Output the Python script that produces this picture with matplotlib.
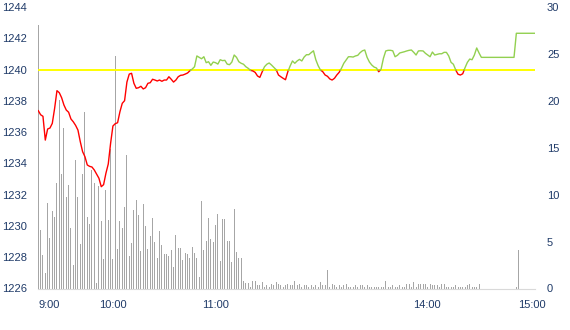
import numpy as np
import matplotlib
matplotlib.use("Agg")
import matplotlib.pyplot as plt

prev_close = 1239.95

price = [
    1237.37, 1237.11, 1237.01, 1235.49, 1236.20, 1236.26, 1236.56, 1237.52, 1238.65, 1238.52,
    1238.20, 1237.73, 1237.41, 1237.27, 1236.84, 1236.66, 1236.43, 1236.13, 1235.39, 1234.75,
    1234.43, 1233.90, 1233.81, 1233.77, 1233.58, 1233.32, 1233.05, 1232.51, 1232.64, 1233.37,
    1233.96, 1235.28, 1236.39, 1236.54, 1236.60, 1237.30, 1237.84, 1238.01, 1239.20, 1239.71,
    1239.76, 1239.12, 1238.80, 1238.84, 1238.93, 1238.76, 1238.84, 1239.12, 1239.16, 1239.38,
    1239.33, 1239.27, 1239.33, 1239.25, 1239.33, 1239.33, 1239.54, 1239.38, 1239.20, 1239.33,
    1239.54, 1239.63, 1239.65, 1239.71, 1239.78, 1239.93, 1240.03, 1240.18, 1240.87, 1240.78,
    1240.69, 1240.82, 1240.44, 1240.50, 1240.27, 1240.48, 1240.44, 1240.35, 1240.63, 1240.57,
    1240.59, 1240.35, 1240.31, 1240.48, 1240.93, 1240.78, 1240.50, 1240.40, 1240.34, 1240.18,
    1240.08, 1239.95, 1239.91, 1239.82, 1239.59, 1239.50, 1239.86, 1240.18, 1240.34, 1240.42,
    1240.29, 1240.14, 1239.99, 1239.65, 1239.54, 1239.44, 1239.35, 1239.86, 1240.23, 1240.55,
    1240.40, 1240.55, 1240.65, 1240.55, 1240.80, 1240.95, 1240.95, 1241.08, 1241.20, 1240.63,
    1240.25, 1239.97, 1239.86, 1239.65, 1239.57, 1239.40, 1239.33, 1239.44, 1239.65, 1239.82,
    1240.08, 1240.40, 1240.61, 1240.82, 1240.82, 1240.80, 1240.87, 1240.91, 1241.08, 1241.20,
    1241.25, 1240.78, 1240.48, 1240.29, 1240.16, 1240.10, 1239.86, 1240.03, 1240.72, 1241.19,
    1241.23, 1241.23, 1241.20, 1240.82, 1240.91, 1241.06, 1241.10, 1241.14, 1241.19, 1241.23,
    1241.25, 1241.10, 1240.93, 1241.19, 1241.20, 1241.19, 1241.04, 1240.93, 1240.82, 1241.12,
    1240.93, 1240.97, 1241.01, 1241.01, 1241.10, 1241.10, 1240.87, 1240.46, 1240.34, 1239.97,
    1239.70, 1239.65, 1239.73, 1240.12, 1240.46, 1240.67, 1240.63, 1240.93, 1241.38, 1241.06,
    1240.78, 1240.78, 1240.78, 1240.78, 1240.78, 1240.78, 1240.78, 1240.78, 1240.78, 1240.78,
    1240.78, 1240.78, 1240.78, 1240.78, 1240.78, 1242.32, 1242.32, 1242.32, 1242.32, 1242.32,
    1242.32, 1242.32, 1242.32, 1242.32,
]

volume = [
    28.1, 6.2, 3.6, 1.7, 9.1, 5.4, 8.3, 7.6, 11.2, 20.1,
    12.2, 17.1, 9.7, 11.0, 6.4, 2.5, 13.7, 9.7, 4.7, 12.2,
    18.8, 7.6, 6.9, 12.6, 11.2, 0.6, 10.9, 7.2, 3.1, 10.5,
    7.3, 14.9, 3.1, 24.8, 4.2, 7.2, 6.4, 8.7, 14.2, 3.5,
    4.9, 8.4, 9.4, 7.8, 4.0, 9.0, 6.7, 4.2, 5.6, 7.5,
    5.0, 3.3, 6.1, 4.6, 3.7, 3.7, 3.5, 4.1, 2.3, 5.7,
    4.3, 4.3, 3.0, 3.8, 3.7, 3.3, 4.4, 3.8, 3.3, 1.2,
    9.3, 4.1, 5.1, 7.5, 5.3, 5.0, 6.8, 7.9, 2.9, 7.4,
    7.4, 5.1, 5.1, 2.8, 8.5, 3.9, 3.3, 3.3, 0.8, 0.6,
    0.6, 0.2, 0.8, 0.8, 0.4, 0.4, 0.7, 0.2, 0.4, 0.2,
    0.53, 0.32, 0.64, 0.43, 0.32, 0.21, 0.32, 0.53, 0.32, 0.32,
    0.85, 0.32, 0.43, 0.11, 0.32, 0.32, 0.21, 0.32, 0.21, 0.32,
    0.21, 0.64, 0.32, 0.32, 1.92, 0.21, 0.53, 0.32, 0.21, 0.32,
    0.21, 0.32, 0.43, 0.21, 0.21, 0.21, 0.32, 0.21, 0.32, 0.32,
    0.21, 0.32, 0.21, 0.21, 0.21, 0.11, 0.11, 0.11, 0.21, 0.75,
    0.11, 0.11, 0.32, 0.21, 0.11, 0.32, 0.21, 0.21, 0.43, 0.53,
    0.21, 0.64, 0.21, 0.43, 0.53, 0.53, 0.53, 0.21, 0.53, 0.32,
    0.32, 0.32, 0.11, 0.43, 0.43, 0.21, 0.21, 0.21, 0.21, 0.32,
    0.21, 0.21, 0.21, 0.11, 0.32, 0.43, 0.21, 0.21, 0.21, 0.43,
    0, 0, 0, 0, 0, 0, 0, 0, 0, 0,
    0, 0, 0, 0, 0, 0.21, 4.09, 0, 0, 0,
    0, 0, 0, 0,
]

tick_labels = ["9:00", "10:00", "11:00", "14:00", "15:00"]
tick_pos = [4.6, 32.0, 76.2, 166.6, 211.6]

price_ticks = [1226, 1228, 1230, 1232, 1234, 1236, 1238, 1240, 1242, 1244]
vol_ticks = [0, 5, 10, 15, 20, 25, 30]

plt.rcParams['font.family'] = ['Liberation Sans', 'DejaVu Sans']

fig = plt.figure(figsize=(5.7, 3.3), dpi=100)
ax = fig.add_axes([37.6 / 570, (330 - 288.5) / 330, 497.4 / 570, 281.5 / 330])
ax2 = ax.twinx()

x = np.arange(len(price), dtype=float)
p = np.array(price, dtype=float)
v = np.array(volume, dtype=float)

# volume bars (behind)
ax2.bar(x, v, width=0.45, color='#A6A6A6', linewidth=0)
ax2.set_ylim(0, 30)
ax2.set_yticks(vol_ticks)

# insert crossing points for colour split
xs, ps = [x[0]], [p[0]]
for i in range(len(p) - 1):
    a, b = p[i] - prev_close, p[i + 1] - prev_close
    if a * b < 0:
        t = a / (a - b)
        xs.append(x[i] + t)
        ps.append(prev_close)
    xs.append(x[i + 1])
    ps.append(p[i + 1])
xs = np.array(xs)
ps = np.array(ps)
up = np.where(ps >= prev_close, ps, np.nan)
dn = np.where(ps <= prev_close, ps, np.nan)

ax.axhline(prev_close, color='#FFFF00', lw=1.4, zorder=2)
ax.plot(xs, dn, color='#FF0000', lw=1.0, zorder=3)
ax.plot(xs, up, color='#92D050', lw=1.0, zorder=3)

ax.set_ylim(1226, 1244)
ax.set_yticks(price_ticks)
ax.set_xlim(-0.3, 213.0)
ax.set_xticks(tick_pos)
ax.set_xticklabels(tick_labels)

ax.set_zorder(ax2.get_zorder() + 1)
ax.patch.set_visible(False)

lab_col = '#1F3A68'
for a in (ax, ax2):
    for s in ['top', 'left', 'right', 'bottom']:
        a.spines[s].set_visible(False)
    a.tick_params(length=0, labelsize=8, colors=lab_col)
ax.spines['bottom'].set_visible(True)
ax.spines['bottom'].set_color('#D9D9D9')
ax.tick_params(axis='y', pad=7.6)
ax.tick_params(axis='x', pad=8)
ax2.tick_params(axis='y', pad=8.6)

fig.savefig('out.png', dpi=100)
